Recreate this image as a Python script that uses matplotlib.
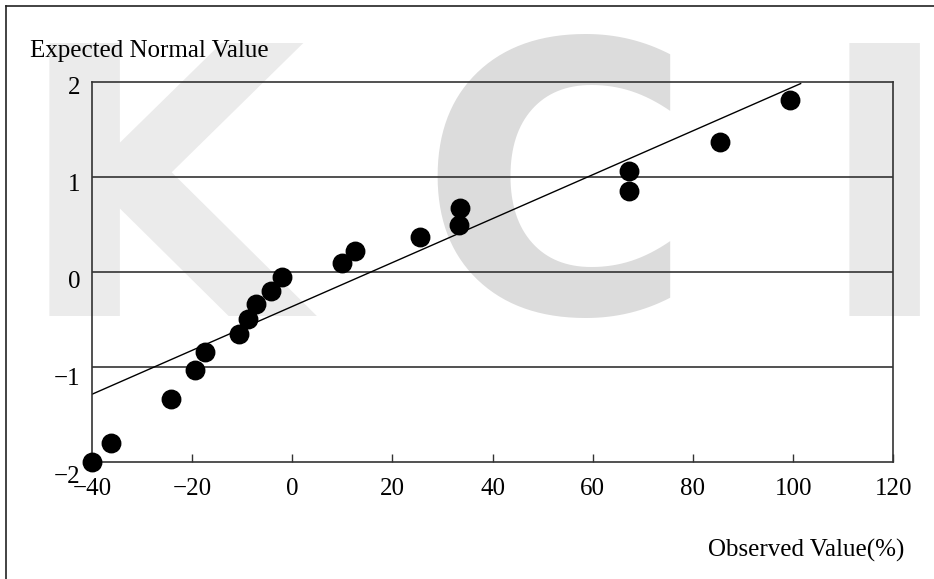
import matplotlib.pyplot as plt
import matplotlib.transforms as mtransforms
from matplotlib.lines import Line2D

observed = [-40.0, -36.2, -24.2, -19.4, -17.4, -10.7, -8.8, -7.2, -4.3, -2.1,
            10.0, 12.5, 25.5, 33.2, 33.5, 67.2, 67.2, 85.3, 99.3]
expected = [-2.00, -1.80, -1.34, -1.04, -0.85, -0.66, -0.50, -0.34, -0.20, -0.06,
            0.09, 0.22, 0.36, 0.49, 0.67, 0.85, 1.06, 1.36, 1.81]
fit_x = [-40.0, 101.5]
fit_y = [-1.29, 1.98]

x_ticks = [-40, -20, 0, 20, 40, 60, 80, 100, 120]
y_ticks = [-2, -1, 0, 1, 2]

plt.rcParams["font.family"] = ["Liberation Serif", "DejaVu Serif"]
fs = 18

fig = plt.figure(figsize=(9.34, 5.79), dpi=100)
ax = fig.add_axes([0.0985, 0.2026, 0.8579, 0.6563])
ax.patch.set_alpha(0)

# faint KCI watermark behind the chart
wm = dict(fontsize=270, fontweight="bold", family="DejaVu Sans",
          ha="center", va="center", zorder=-5)
fig.text(160 / 934, 1 - 212 / 579, "K", color="#ebebeb", **wm)
fig.text(556 / 934, 1 - 210 / 579, "C", color="#dcdcdc", **wm)
fig.text(884 / 934, 1 - 212 / 579, "I", color="#e9e9e9", **wm)

# outer frame (only left and top edges fall inside the image)
fig.add_artist(Line2D([5.5 / 934, 5.5 / 934], [0, 1 - 5.5 / 579], color="#222222", lw=1.2))
fig.add_artist(Line2D([5.5 / 934, 1], [1 - 5.5 / 579, 1 - 5.5 / 579], color="#222222", lw=1.2))

for y in y_ticks[1:-1]:
    ax.axhline(y, color="#333333", lw=1.2, zorder=1)

ax.plot(fit_x, fit_y, color="black", lw=1.0, zorder=2)
ax.plot(observed, expected, "o", color="black", ms=13.3, zorder=3, clip_on=False)

ax.set_xlim(-40, 120)
ax.set_ylim(-2, 2)
ax.set_xticks(x_ticks)
ax.set_xticklabels([str(v).replace("-", "\u2212") for v in x_ticks], fontsize=fs)
ax.set_yticks(y_ticks)
ax.set_yticklabels([str(v).replace("-", "\u2212") for v in y_ticks], fontsize=fs)
ax.tick_params(axis="x", direction="in", length=6, width=1, color="#333333", pad=12)
ax.tick_params(axis="y", length=0, pad=8.5)

for lab, dy in zip(ax.get_yticklabels(), [13, 10, 8, 6, 4]):
    lab.set_transform(lab.get_transform() + mtransforms.ScaledTranslation(0, -dy / 100, fig.dpi_scale_trans))

for s in ax.spines.values():
    s.set_color("#333333")
    s.set_linewidth(1.2)

fig.text(30 / 934, 1 - 57 / 579, "Expected Normal Value", fontsize=fs, ha="left", va="baseline")
fig.text(904 / 934, 1 - 557 / 579, "Observed Value(%)", fontsize=fs, ha="right", va="baseline")

fig.savefig("out.png", dpi=100)
